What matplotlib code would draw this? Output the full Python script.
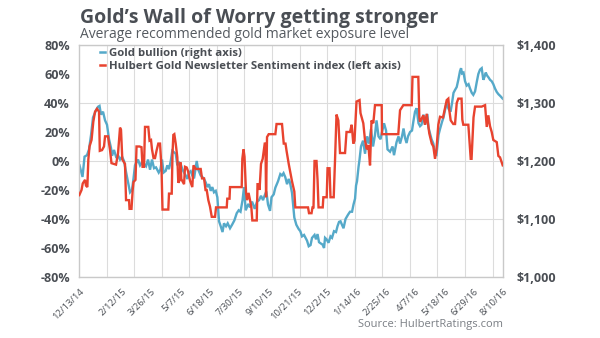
import numpy as np
import pandas as pd
import matplotlib
matplotlib.use("Agg")
import matplotlib.pyplot as plt
import matplotlib.dates as mdates
from matplotlib.lines import Line2D
from matplotlib.ticker import FuncFormatter

plt.rcParams["font.family"] = ["Open Sans", "DejaVu Sans"]

START = pd.Timestamp("2014-12-13")
DAYS_SHOWN = 606  # through 8/10/16

# Gold bullion ($/oz); days counted from START
gold_days = [0.7, 5.0, 7.9, 11.4, 14.3, 17.2, 20.0, 24.3, 27.2, 29.3,
             31.4, 34.3, 37.2, 40.0, 42.9, 45.7, 47.2, 50.0, 52.9, 55.7,
             58.6, 61.5, 64.3, 67.2, 70.0, 72.9, 75.7, 77.9, 80.0, 82.2,
             84.3, 87.2, 90.0, 92.9, 95.8, 98.6, 101.5, 104.3, 107.2, 110.0,
             113.9, 116.2, 118.6, 120.8, 123.9, 126.2, 128.6, 131.1, 133.3, 135.8,
             138.2, 140.5, 142.9, 145.3, 147.6, 150.1, 152.5, 154.8, 157.2, 159.6,
             161.9, 164.4, 166.8, 168.2, 170.1, 173.9, 176.2, 178.7, 181.1, 183.4,
             185.8, 188.2, 190.5, 192.9, 195.4, 197.7, 200.1, 202.5, 205.1, 207.2,
             210.1, 212.5, 215.8, 218.7, 222.0, 225.4, 228.2, 230.8, 233.7, 235.8,
             238.2, 242.0, 244.4, 247.3, 251.1, 254.4, 257.3, 260.1, 263.0, 265.1,
             267.7, 270.1, 273.0, 275.1, 278.3, 280.6, 284.4, 287.7, 290.1, 292.3,
             294.8, 297.3, 299.7, 301.6, 304.4, 307.7, 310.6, 314.0, 316.3, 318.7,
             321.6, 323.7, 325.9, 328.3, 330.9, 333.0, 336.6, 338.7, 340.9, 343.0,
             345.9, 348.0, 350.2, 351.6, 353.7, 356.6, 359.4, 361.6, 364.4, 367.3,
             369.4, 371.6, 373.7, 375.9, 378.0, 380.9, 384.5, 387.3, 390.2, 392.3,
             394.5, 395.9, 397.3, 399.5, 400.9, 403.0, 405.9, 408.8, 411.6, 414.5,
             417.3, 420.2, 423.0, 425.2, 428.0, 430.9, 433.0, 435.9, 438.8, 440.9,
             444.5, 448.1, 450.2, 453.8, 456.6, 458.8, 461.6, 463.8, 465.9, 468.1,
             470.2, 473.1, 475.9, 478.1, 480.2, 482.4, 485.2, 487.4, 489.5, 492.4,
             494.5, 497.8, 499.5, 501.6, 503.8, 506.4, 508.8, 510.9, 513.8, 515.9,
             518.8, 520.9, 525.2, 528.1, 531.0, 533.1, 535.2, 537.4, 539.8, 542.1,
             544.5, 546.0, 547.4, 549.5, 551.7, 554.1, 556.7, 558.8, 561.3, 563.5,
             566.0, 568.4, 570.7, 573.1, 575.5, 577.8, 579.5, 581.3, 583.1, 585.3,
             587.4, 589.8, 592.1, 594.5, 597.0, 599.5, 601.7, 605.5]
gold_price = [1192.5, 1172.5, 1207.5, 1210, 1220, 1245, 1275, 1287.5, 1293.5, 1295,
              1280, 1285, 1270, 1262.5, 1237.5, 1222.5, 1209, 1219, 1207.5, 1210,
              1202.5, 1207.5, 1200, 1181, 1164, 1146, 1150, 1170, 1192.5, 1197.5,
              1202.5, 1192.5, 1197.5, 1195, 1191, 1202.5, 1185, 1202.5, 1187.5, 1189,
              1180, 1185, 1202.5, 1180, 1183, 1192.5, 1186, 1200, 1217.5, 1215,
              1212.5, 1192.5, 1197.5, 1195, 1186, 1180, 1175, 1169, 1180, 1182.5,
              1175, 1170, 1189, 1200, 1186, 1175, 1172.5, 1169, 1163, 1155,
              1160, 1148.5, 1155, 1146, 1148.5, 1137.5, 1096, 1087.5, 1077.5, 1092.5,
              1087.5, 1092.5, 1084, 1090, 1097.5, 1110, 1115, 1112.5, 1132.5, 1155,
              1115, 1126, 1120, 1130, 1117.5, 1130, 1132.5, 1140, 1132.5, 1140,
              1147.5, 1125, 1114, 1137.5, 1142.5, 1154, 1165, 1177.5, 1175, 1179,
              1172, 1160, 1169, 1162.5, 1145, 1102.5, 1090, 1082.5, 1079, 1070,
              1072.5, 1067.5, 1062.5, 1053, 1055, 1067.5, 1072.5, 1065, 1074, 1060,
              1057.5, 1056, 1050, 1067.5, 1065, 1059, 1070, 1067.5, 1079, 1077.5,
              1087.5, 1095, 1096, 1090, 1084, 1100, 1107.5, 1112.5, 1112.5, 1125,
              1135, 1157.5, 1165, 1190, 1202.5, 1225, 1235, 1212.5, 1242.5, 1230,
              1255, 1225, 1245, 1270, 1242.5, 1237.5, 1250, 1265, 1252.5, 1220,
              1216, 1225, 1210, 1232.5, 1242.5, 1230, 1242.5, 1256, 1240, 1231,
              1242.5, 1250, 1252.5, 1270, 1285, 1291, 1265, 1260, 1262.5, 1280,
              1262.5, 1281, 1257.5, 1247.5, 1237.5, 1230, 1212.5, 1211, 1245, 1255,
              1267.5, 1275, 1300, 1290, 1285, 1300, 1317.5, 1322.5, 1327.5, 1340,
              1355, 1360, 1351, 1352.5, 1337.5, 1330, 1332.5, 1325, 1317.5, 1314,
              1320, 1336, 1350, 1357.5, 1360, 1340, 1345, 1352.5, 1347.5, 1344,
              1340, 1337.5, 1332.5, 1325, 1319, 1315, 1312.5, 1307.5]

# Hulbert Gold Newsletter Sentiment Index (% recommended exposure)
hgnsi_days = [0.4, 3.6, 5.3, 8.6, 10.0, 11.9, 13.3, 15.0, 17.9, 20.4,
              22.9, 25.7, 28.6, 29.7, 32.9, 35.7, 37.2, 41.4, 44.3, 46.4,
              52.9, 55.7, 58.6, 60.0, 61.9, 65.7, 67.2, 71.5, 72.2, 75.0,
              76.7, 77.9, 80.7, 82.2, 86.5, 89.3, 90.8, 92.9, 94.3, 99.0,
              100.8, 102.9, 104.3, 106.5, 108.6, 111.0, 113.3, 115.8, 117.9, 119.3,
              127.6, 128.6, 132.5, 133.6, 134.8, 136.2, 138.2, 140.5, 141.9, 143.6,
              145.1, 146.2, 150.1, 151.5, 153.9, 155.8, 158.6, 161.9, 163.6, 166.8,
              173.9, 175.8, 178.7, 180.8, 182.5, 184.8, 187.2, 189.7, 194.4, 195.8,
              211.1, 211.9, 215.1, 215.8, 232.5, 233.4, 235.1, 236.5, 238.7, 240.1,
              242.3, 244.4, 246.3, 247.7, 254.0, 255.1, 257.3, 258.0, 260.1, 262.5,
              265.4, 266.5, 267.3, 268.7, 271.1, 280.6, 282.3, 290.1, 292.6, 295.1,
              296.6, 299.7, 304.4, 307.7, 309.1, 327.3, 328.7, 332.3, 333.7, 335.1,
              336.6, 339.4, 340.9, 342.3, 348.3, 349.2, 354.0, 355.2, 358.0, 359.4,
              364.0, 365.9, 368.0, 370.6, 373.0, 380.2, 382.3, 387.3, 389.7, 392.0,
              393.7, 396.6, 400.9, 402.3, 406.3, 408.8, 411.2, 413.5, 415.9, 418.0,
              420.6, 423.0, 432.6, 433.0, 456.3, 458.8, 463.5, 475.5, 476.6, 484.9,
              486.4, 487.4, 492.1, 494.5, 496.9, 500.6, 504.1, 506.4, 508.8, 510.9,
              513.5, 515.9, 520.2, 525.5, 527.8, 529.2, 531.2, 534.9, 537.4, 539.8,
              542.1, 546.7, 547.8, 549.2, 556.4, 559.8, 561.0, 563.8, 566.0, 575.5,
              580.3, 582.7, 585.0, 587.4, 589.8, 592.1, 597.0, 599.3, 601.7, 604.1,
              605.5]
hgnsi_pct = [-23.5, -20, -15.5, -13, -17, -18, 1, 10, 14.5, 27,
             34, 36, 34, 7, 7.5, 10, 17, 17, 7.5, -1.5,
             -2.5, 5, 23, 21.5, 1, -2, -27, -27, -33, -33,
             -20, -14.5, -13, 10, 10, 9.5, -4, -4, 23.5, 23.5,
             14, 14.5, 8, 2, 2, 7.5, 12, 12, -5, -33.5,
             -33.5, -22.5, -22.5, 5, 18, 18.5, 12, 2.5, -15, -13.5,
             -1, -12.5, -16, -4, -4.5, -7, -13.5, -18, -3, -5.5,
             -5.5, -12, -12, -20, -20, -27, -31.5, -38.5, -38.5, -32,
             -32, -26, -26, -18, -18, 1.5, 8, 3, -22, -27,
             -22, -27, -32, -41, -41, -16, -16, -20, -2, 1.5,
             12, 12, -25, 16.5, 18.5, 18.5, 25.5, 25.5, 12, 12,
             7, -2, -14, -21, -32, -32, -36, -36, -32, -32,
             0, 0, -13, -32, -32, -25, -25, -5, -5, -25,
             -25, 1, 32, 28, 5.5, 5.5, 20, 20, 25, 12,
             14, 41, 42, 33, 26, 14, 8, 11, -3, 28,
             26, 38.5, 38.5, 18.5, 18.5, 35, 38.5, 38.5, 58, 58,
             30, 27, 31.5, 25, 32.5, 19, 12, 10, 1.5, 8,
             25, 30.5, 30, 42, 43, 35, 28, 25.5, 25.5, 40,
             43, 43, 28.5, 25, 25, 1.5, 1.5, 30, 37.5, 37.5,
             38.5, 23.5, 31.5, 24, 20, 14.5, 13, 3.5, 2.5, -1,
             -3]

tick_labels = ["12/13/14", "2/12/15", "3/26/15", "5/7/15", "6/18/15",
               "7/30/15", "9/10/15", "10/21/15", "12/2/15", "1/14/16",
               "2/25/16", "4/7/16", "5/18/16", "6/29/16", "8/10/16"]

BLUE = "#55a9c9"
RED = "#e8432f"
GRID = "#dcdcdc"
FRAME = "#c9c9c9"
TEXT = "#4a4e54"

t0 = mdates.date2num(START)
gold_x = t0 + np.asarray(gold_days)
hgnsi_x = t0 + np.asarray(hgnsi_days)
tick_x = mdates.date2num(pd.to_datetime(tick_labels, format="%m/%d/%y"))

fig = plt.figure(figsize=(6.0, 3.38), dpi=100)
fig.patch.set_facecolor("white")

# host axes carries gold on the right-hand scale and the grid
ax = fig.add_axes([0.1317, 0.1805, 0.7067, 0.6864])
ax2 = ax.twinx()

ax.set_xlim(t0, t0 + DAYS_SHOWN)
ax.set_ylim(1000, 1400)
ax.set_yticks([1000, 1100, 1200, 1300, 1400])
ax.yaxis.tick_right()
ax.yaxis.set_label_position("right")
ax.yaxis.set_major_formatter(FuncFormatter(lambda v, p: f"${v:,.0f}"))
ax.grid(axis="y", color=GRID, lw=0.8, zorder=0)
grid_step = 39.4
for k in range(1, 16):
    ax.axvline(t0 + k * grid_step, color=GRID, lw=0.8, zorder=0)
ax.plot(gold_x, gold_price, color=BLUE, lw=1.7, solid_joinstyle="miter", zorder=2)

ax.set_xticks(tick_x)
ax.set_xticklabels(tick_labels, rotation=45, ha="right", va="top",
                   rotation_mode="anchor", fontsize=6.8, color=TEXT)
ax.tick_params(axis="x", length=0, pad=7)
ax.tick_params(axis="y", which="both", left=False, right=False,
               labelleft=False, labelright=True,
               pad=6, labelsize=9, labelcolor=TEXT)
for lab in ax.get_yticklabels():
    lab.set_fontweight("bold")
for s in ax.spines.values():
    s.set_color(FRAME)
    s.set_linewidth(1.0)

# twin axes carries the sentiment index on the left-hand scale, drawn on top
ax2.set_ylim(-80, 80)
ax2.set_yticks(np.arange(-80, 81, 20))
ax2.yaxis.tick_left()
ax2.yaxis.set_label_position("left")
ax2.yaxis.set_major_formatter(FuncFormatter(lambda v, p: f"{v:.0f}%"))
ax2.tick_params(axis="y", which="both", left=False, right=False,
                labelleft=True, labelright=False,
                pad=3, labelsize=9, labelcolor=TEXT)
for lab in ax2.get_yticklabels():
    lab.set_fontweight("bold")
for s in ax2.spines.values():
    s.set_visible(False)
ax2.plot(hgnsi_x, hgnsi_pct, color=RED, lw=1.7, solid_joinstyle="miter", zorder=3)

handles = [Line2D([], [], color=BLUE, lw=1.8),
           Line2D([], [], color=RED, lw=1.8)]
leg = ax2.legend(handles,
                 ["Gold bullion (right axis)",
                  "Hulbert Gold Newsletter Sentiment index (left axis)"],
                 loc="upper left", bbox_to_anchor=(0.038, 1.005),
                 frameon=False, handlelength=0.5, handletextpad=0.3,
                 labelspacing=0.1, borderaxespad=0.0,
                 prop={"size": 8.2, "weight": "bold"})
for txt in leg.get_texts():
    txt.set_color(TEXT)

fig.text(80 / 600, 1 - 23 / 338, "Gold\u2019s Wall of Worry getting stronger",
         fontsize=14, fontweight="bold", color=TEXT, va="baseline", ha="left")
fig.text(80 / 600, 1 - 38 / 338, "Average recommended gold market exposure level",
         fontsize=10, color="#555a60", va="baseline", ha="left")
fig.text(503 / 600, 1 - 327 / 338, "Source: HulbertRatings.com",
         fontsize=8, color="#7a7e84", va="baseline", ha="right")

fig.savefig("out.png", dpi=100, facecolor="white")
